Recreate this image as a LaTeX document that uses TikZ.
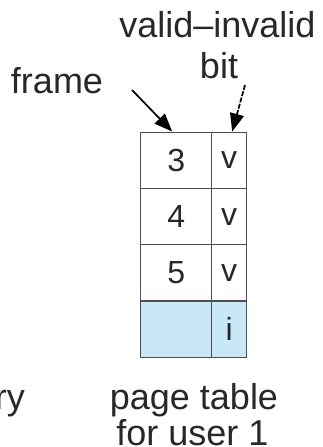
\documentclass[tikz,border=0pt]{standalone}
\usepackage{fontspec}
\setmainfont{Liberation Sans}
\usetikzlibrary{arrows.meta}
\definecolor{cellblue}{RGB}{200,232,248}
\definecolor{gridgray}{RGB}{80,80,80}
\definecolor{inkgray}{RGB}{40,40,40}
\tikzset{
  lbl/.style={inner sep=0pt, anchor=base, font=\fontsize{36}{40}\selectfont, text=inkgray},
  cellL/.style={draw=gridgray, line width=1.3pt, minimum width=71pt, minimum height=56.3pt, inner sep=0pt, font=\fontsize{32}{35}\selectfont, text=inkgray},
  cellR/.style={cellL, minimum width=35pt},
  pointer/.style={line width=1.7pt, -{Triangle[length=18pt,width=14pt]}},
}
\begin{document}
\begin{tikzpicture}[x=1pt,y=1pt]
\useasboundingbox (0,0) rectangle (322,-447);
% table
\node[cellL] (f1) at (176.2,-160.35) {3};
\node[cellR] (b1) at (229.2,-160.35) {v};
\node[cellL] (f2) at (176.2,-216.65) {4};
\node[cellR] (b2) at (229.2,-216.65) {v};
\node[cellL] (f3) at (176.2,-272.95) {5};
\node[cellR] (b3) at (229.2,-272.95) {v};
\node[cellL, fill=cellblue] (f4) at (176.2,-329.25) {};
\node[cellR, fill=cellblue] (b4) at (229.2,-329.25) {i};
% labels
\node[lbl] (vib) at (217.5,-37) {valid–invalid};
\node[lbl] (bit) at (219,-78) {bit};
\node[lbl] (frame) at (57,-93) {frame};
\node[lbl] (pt) at (194,-409) {page table};
\node[lbl, text depth=0pt] (user) at (192.5,-445) {for user 1};
\node[lbl, anchor=base east] (mem) at (25,-409) {ry};
% arrows
\coordinate (fs) at (132,-90);
\coordinate (bs) at (245,-85);
\draw[pointer] (fs) -- ([xshift=-4pt]f1.north);
\draw[pointer, dash pattern=on 5pt off 1.5pt] (bs) -- ([xshift=3pt]b1.north);
\end{tikzpicture}
\end{document}
